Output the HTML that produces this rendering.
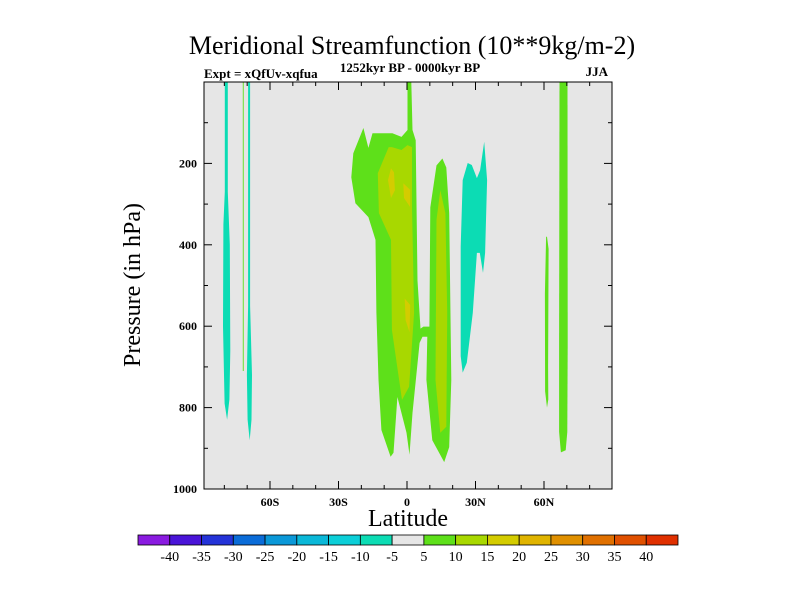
<!DOCTYPE html>
<html><head><meta charset="utf-8"><style>
body{margin:0;background:#fff;}
svg text{font-family:"Liberation Serif",serif;fill:#000;}
</style></head><body>
<svg width="800" height="600" xmlns="http://www.w3.org/2000/svg">
<text x="412" y="54" font-size="26" text-anchor="middle">Meridional Streamfunction (10**9kg/m-2)</text>
<text x="204" y="78" font-size="13" font-weight="bold">Expt = xQfUv-xqfua</text>
<text x="410" y="72" font-size="13" font-weight="bold" text-anchor="middle">1252kyr BP - 0000kyr BP</text>
<text x="608" y="76" font-size="13" text-anchor="end" font-weight="bold">JJA</text>
<rect x="204" y="82" width="408" height="407" fill="#e6e6e6"/>
<g id="shapes"></g>
<rect x="204" y="82" width="408" height="407" fill="none" stroke="#000" stroke-width="1"/>
<g id="axes"></g>
<text x="408" y="526" font-size="24" text-anchor="middle">Latitude</text>
<text transform="translate(140,285) rotate(-90)" font-size="24" text-anchor="middle">Pressure (in hPa)</text>
<g id="colorbar"></g>
</svg>
<script>
const xTickVals=[-60,-30,0,30,60];
const xTickLabels=["60S","30S","0","30N","60N"];
const yTickVals=[200,400,600,800,1000];
const levelLabels=["-40","-35","-30","-25","-20","-15","-10","-5","5","10","15","20","25","30","35","40"];
const levelColors=["#8a1be0","#4a14d8","#2433d8","#0a6cd8","#0a98d8","#0ab8d8","#0ccfd8","#0cdcb4","#e6e6e6","#5ee01a","#a8d800","#d4cc00","#e0b400","#e09000","#e07000","#e05000","#e03000"];
// contour regions: color level index + polygon in [lat, pressure]
const regionLevels=[9,10,11,11,11,11,10,7,7,7,9,9,9];
const regionPoints=[
[[-16.9,162],[-19.1,113],[-23.5,175],[-24.4,234],[-22.6,298],[-16.9,332],[-13.8,388],[-13.4,567],[-12.5,732],[-11.2,855],[-7.2,921],[-5.9,911],[-4.2,774],[-0.2,862],[1.1,916],[2.4,813],[5.5,641],[6.8,626],[8.9,626],[8.5,732],[11.1,880],[16.3,934],[18.5,897],[19.4,732],[18.5,322],[17.2,210],[15.5,188],[12.9,205],[10.2,308],[9.8,601],[7.2,601],[5.9,606],[4.6,488],[3.8,143],[2.4,118],[1.9,0],[0.2,0],[0.2,118],[-2.4,135],[-6.4,126],[-15.1,126]],
[[-8.0,160],[-12.8,224],[-12.3,322],[-7.0,388],[-6.6,609],[-2.2,781],[0.9,749],[3.1,567],[2.2,308],[2.2,160],[0.2,155],[-2.4,167],[-6.6,160]],
[[-7.0,212],[-8.3,241],[-7.0,285],[-5.3,266],[-5.7,222]],
[[-1.6,249],[-1.3,285],[1.3,307],[1.4,265]],
[[-1.0,532],[-0.6,585],[1.1,615],[1.4,548]],
[[-6.4,231],[-7.5,258],[-6.0,275],[-5.5,248]],
[[14.6,266],[12.9,339],[12.5,732],[14.6,862],[17.2,847],[17.6,567],[16.8,322]],
[[26.6,199],[24.4,241],[23.5,404],[23.5,674],[24.4,714],[26.2,690],[28.8,567],[30.6,420],[31.9,420],[33.3,469],[34.2,420],[35.1,241],[33.8,147],[32.0,217],[30.6,236],[28.4,204]],
[[-79.8,0],[-78.5,0],[-78.5,270],[-77.6,400],[-77.4,660],[-77.8,780],[-78.8,830],[-79.9,790],[-80.6,600],[-80.4,350],[-79.8,270]],
[[-69.6,0],[-68.7,0],[-68.7,550],[-67.9,720],[-68.1,830],[-68.9,880],[-69.8,830],[-70.1,720],[-69.6,550]],
[[-71.9,0],[-71.5,0],[-71.5,710],[-71.9,710]],
[[66.8,0],[70.3,0],[70.4,640],[70.2,860],[69.5,905],[67.4,910],[66.6,860],[66.6,640]],
[[60.9,380],[61.3,380],[62.0,410],[61.8,700],[61.9,780],[61.3,800],[60.5,760],[60.4,520]]
];
const X=lat=>407+lat*(68.5/30);
const Y=p=>82+p*(407/1000);
const NS="http://www.w3.org/2000/svg";
const sh=document.getElementById('shapes');
regionPoints.forEach((pts,i)=>{
  const pg=document.createElementNS(NS,'polygon');
  pg.setAttribute('points',pts.map(q=>X(q[0]).toFixed(1)+','+Y(q[1]).toFixed(1)).join(' '));
  pg.setAttribute('fill',levelColors[regionLevels[i]]);
  
  
  sh.appendChild(pg);
});
const ax=document.getElementById('axes');
for(let lat=-80;lat<=80;lat+=10){
  const major=lat%30===0;
  const l=document.createElementNS(NS,'line');
  l.setAttribute('x1',X(lat));l.setAttribute('x2',X(lat));
  l.setAttribute('y1',489);l.setAttribute('y2',major?481:485);
  l.setAttribute('stroke','#000');
  
  
  ax.appendChild(l);
  const t=document.createElementNS(NS,'line');
  t.setAttribute('x1',X(lat));t.setAttribute('x2',X(lat));
  t.setAttribute('y1',82);t.setAttribute('y2',major?90:86);
  t.setAttribute('stroke','#000');
  
  
  ax.appendChild(t);
}
xTickVals.forEach((v,i)=>{
  const t=document.createElementNS(NS,'text');
  t.setAttribute('x',X(v));t.setAttribute('y',506);
  t.setAttribute('font-size','12');t.setAttribute('text-anchor','middle');t.setAttribute('font-weight','bold');
  t.textContent=xTickLabels[i];
  
  
  ax.appendChild(t);
});
for(let p=100;p<=1000;p+=100){
  const major=p%200===0;
  [[204,major?212:208],[612,major?604:608]].forEach(([a,b])=>{
    const l=document.createElementNS(NS,'line');
    l.setAttribute('x1',a);l.setAttribute('x2',b);
    l.setAttribute('y1',Y(p));l.setAttribute('y2',Y(p));
    l.setAttribute('stroke','#000');
    
    
    ax.appendChild(l);
  });
}
yTickVals.forEach(v=>{
  const t=document.createElementNS(NS,'text');
  t.setAttribute('x',197);t.setAttribute('y',Y(v)+4);
  t.setAttribute('font-size','12');t.setAttribute('text-anchor','end');t.setAttribute('font-weight','bold');
  t.textContent=v;
  
  
  ax.appendChild(t);
});
const cb=document.getElementById('colorbar');
const cbX=138,cbW=540/17;
levelColors.forEach((c,i)=>{
  const r=document.createElementNS(NS,'rect');
  r.setAttribute('x',cbX+i*cbW);r.setAttribute('y',535);
  r.setAttribute('width',cbW);r.setAttribute('height',10);
  r.setAttribute('fill',c);r.setAttribute('stroke','#000');r.setAttribute('stroke-width','0.8');
  
  
  cb.appendChild(r);
});
levelLabels.forEach((s,i)=>{
  const t=document.createElementNS(NS,'text');
  t.setAttribute('x',cbX+(i+1)*cbW);t.setAttribute('y',561);
  t.setAttribute('font-size','14');t.setAttribute('text-anchor','middle');
  t.textContent=s;
  
  
  cb.appendChild(t);
});
</script>
</body></html>
